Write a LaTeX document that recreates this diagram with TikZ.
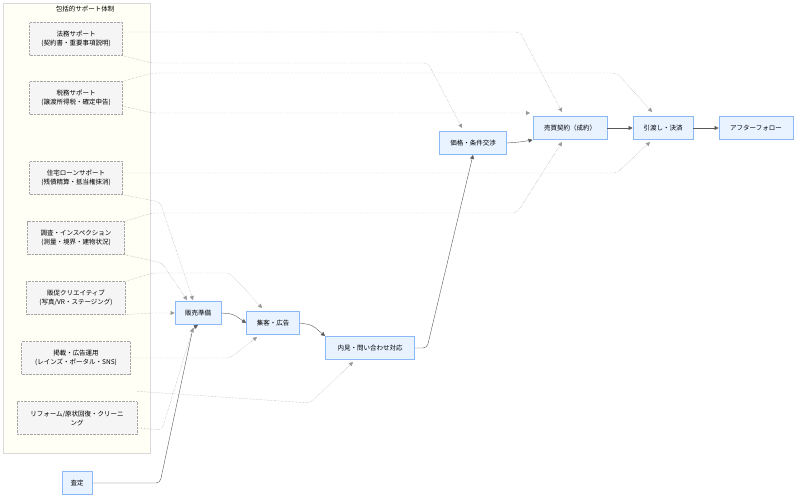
\documentclass[tikz,border=0pt]{standalone}
\usepackage{fontspec}
\setmainfont{Noto Sans CJK JP}
\usetikzlibrary{arrows.meta}
\definecolor{pfill}{RGB}{232,243,255}
\definecolor{pdraw}{RGB}{140,185,245}
\definecolor{sfill}{RGB}{245,245,245}
\definecolor{cfill}{RGB}{255,255,245}
\begin{document}
\begin{tikzpicture}[x=1pt,y=-1pt,
 every node/.style={font=\fontsize{6.5}{9}\selectfont},
 sup/.style={draw=gray!70,densely dotted,fill=sfill,align=center,minimum height=33pt,inner xsep=4pt},
 proc/.style={draw=pdraw,line width=0.9pt,fill=pfill,minimum height=23pt,inner xsep=6pt},
 flow/.style={draw=gray!70!black,-{Triangle[length=4pt,width=4pt]},rounded corners=4pt},
 dflow/.style={draw=gray!80,densely dotted,-{Triangle[length=4pt,width=4pt]},rounded corners=4pt}]
\useasboundingbox (0,0) rectangle (800,500);
\draw[draw=gray!30,fill=cfill] (3,3) rectangle (150,453);
\node (title) at (85,9) {包括的サポート体制};
\node[sup,minimum width=93pt] (hom) at (76,39) {法務サポート\\(契約書・重要事項説明)};
\node[sup,minimum width=93pt] (zei) at (76,98) {税務サポート\\(譲渡所得税・確定申告)};
\node[sup,minimum width=93pt] (loan) at (76,178) {住宅ローンサポート\\(残債精算・抵当権抹消)};
\node[sup,minimum width=97pt] (cho) at (76,238) {調査・インスペクション\\(測量・境界・建物状況)};
\node[sup,minimum width=99pt] (han) at (76,298) {販促クリエイティブ\\(写真/VR・ステージング)};
\node[sup,minimum width=109pt] (kei) at (76,358) {掲載・広告運用\\(レインズ・ポータル・SNS)};
\node[sup,minimum width=120pt] (ref) at (77,418) {リフォーム/原状回復・クリーニ\\ング};
\node[proc,minimum width=30pt,inner xsep=2pt] (sa) at (77,483) {査定};
\node[proc,minimum width=46pt] (jun) at (198,313) {販売準備};
\node[proc,minimum width=53pt] (shu) at (273,323) {集客・広告};
\node[proc,minimum width=89pt] (nai) at (370,348) {内見・問い合わせ対応};
\node[proc,minimum width=67pt] (kak) at (473,143) {価格・条件交渉};
\node[proc,minimum width=74pt] (bai) at (570,128) {売買契約（成約）};
\node[proc,minimum width=60pt] (hik) at (663,128) {引渡し・決済};
\node[proc,minimum width=74pt] (aft) at (756,128) {アフターフォロー};
% solid flow
\draw[flow] (sa.east) -- (160,483) -- (193,328) -- (jun.south);
\draw[flow] (jun.east) -- (233,314) -- (shu.west);
\draw[flow] (shu.east) -- (312,325) -- (nai.north west);
\draw[flow] (nai.east) -- (427,348) -- (kak.south);
\draw[flow] (kak.east) -- (520,142) -- (bai.south west);
\draw[flow] (bai) -- (hik);
\draw[flow] (hik) -- (aft);
% dotted support
\draw[dflow] (hom.east) ++(0,-7) -- (520,32) -- (562,112);
\draw[dflow] (hom.south east) -- (152,63) -- (428,63) -- (462,128);
\draw[dflow] (zei.north east) -- (152,73) -- (617,73) -- (652,112);
\draw[dflow] (zei.east) ++(0,8) -- (152,113) -- (530,113);
\draw[dflow] (loan.east) ++(0,-5) -- (617,173) -- (650,142);
\draw[dflow] (loan.south east) -- (160,202) -- (193,300);
\draw[dflow] (cho.north east) -- (152,213) -- (517,213) -- (562,142);
\draw[dflow] (cho.south east) -- (162,263) -- (187,300);
\draw[dflow] (han.north east) -- (152,273) -- (230,273) -- (262,308);
\draw[dflow] (han.south east) -- (150,313) -- (jun.west);
\draw[dflow] (kei.east) -- (230,358) -- (257,337);
\draw[dflow] (ref.north east) ++(0,-10) -- (310,403) -- (353,362);
\draw[dflow] (ref.east) ++(0,10) -- (162,430) -- (193,328);
\end{tikzpicture}
\end{document}
